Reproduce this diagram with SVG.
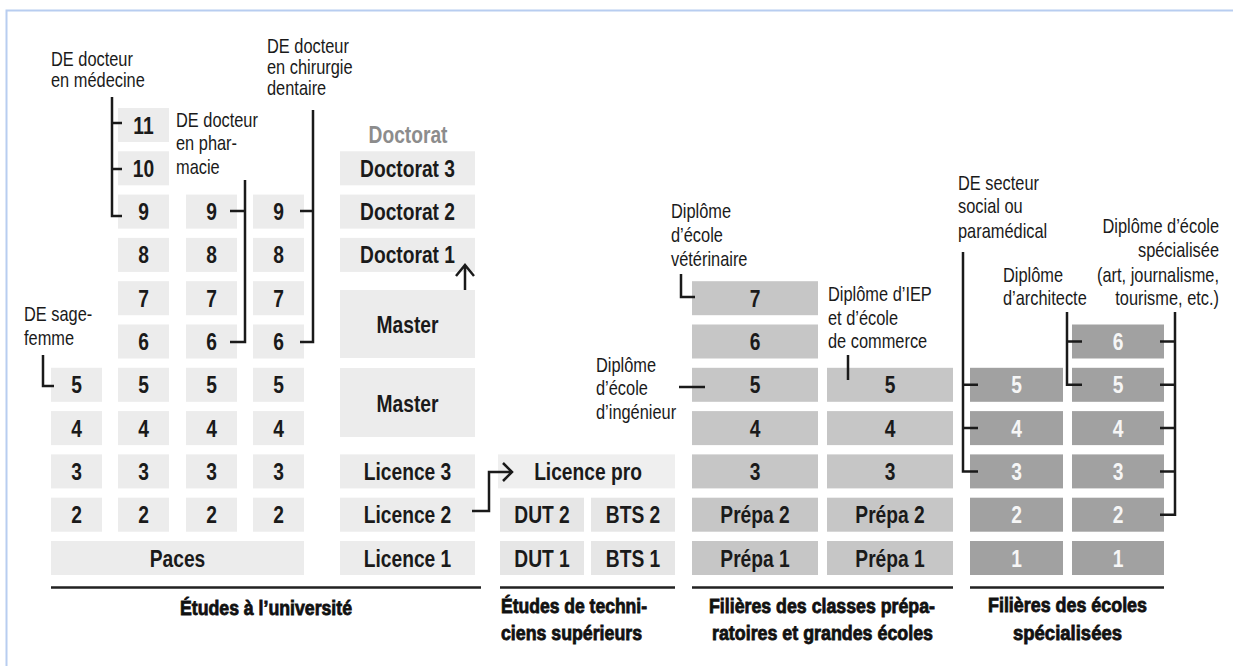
<svg xmlns="http://www.w3.org/2000/svg" width="1233" height="666" viewBox="0 0 1233 666">
<style>
.u{fill:#ececec}.t{fill:#e6e6e6}.lp{fill:#efefef}.p{fill:#c6c6c6}.s{fill:#a1a1a1}
.bt{font-family:"Liberation Sans",Arial,sans-serif;font-weight:bold;font-size:24px;fill:#1a1a1a;text-anchor:middle}
.wt{fill:#f6f6f6}
.lb{font-family:"Liberation Sans",Arial,sans-serif;font-size:20px;fill:#1a1a1a}
.ti{font-family:"Liberation Sans",Arial,sans-serif;font-weight:bold;font-size:20px;fill:#111;stroke:#111;stroke-width:0.8}
.c{fill:none;stroke:#1a1a1a;stroke-width:2.5}
.ul{stroke:#222;stroke-width:2.5}
</style>
<rect width="1233" height="666" fill="#fff"/>
<g id="frame" stroke="#b8cdf0" stroke-width="2" fill="none"><path d="M6.5,666 V10.5 H1233"/></g>

<g id="sage-femme">
<rect class="u" x="51" y="367.8" width="51" height="34"/><text class="bt" transform="translate(76.5,393.3) scale(.8,1)">5</text>
<rect class="u" x="51" y="411.1" width="51" height="34"/><text class="bt" transform="translate(76.5,436.6) scale(.8,1)">4</text>
<rect class="u" x="51" y="454.4" width="51" height="34"/><text class="bt" transform="translate(76.5,479.9) scale(.8,1)">3</text>
<rect class="u" x="51" y="497.7" width="51" height="34"/><text class="bt" transform="translate(76.5,523.2) scale(.8,1)">2</text>
</g>
<g id="medecine">
<rect class="u" x="118" y="108" width="51" height="34"/><text class="bt" transform="translate(143.5,133.5) scale(.8,1)">11</text>
<rect class="u" x="118" y="151.3" width="51" height="34"/><text class="bt" transform="translate(143.5,176.8) scale(.8,1)">10</text>
<rect class="u" x="118" y="194.6" width="51" height="34"/><text class="bt" transform="translate(143.5,220.1) scale(.8,1)">9</text>
<rect class="u" x="118" y="237.9" width="51" height="34"/><text class="bt" transform="translate(143.5,263.4) scale(.8,1)">8</text>
<rect class="u" x="118" y="281.2" width="51" height="34"/><text class="bt" transform="translate(143.5,306.7) scale(.8,1)">7</text>
<rect class="u" x="118" y="324.5" width="51" height="34"/><text class="bt" transform="translate(143.5,350) scale(.8,1)">6</text>
<rect class="u" x="118" y="367.8" width="51" height="34"/><text class="bt" transform="translate(143.5,393.3) scale(.8,1)">5</text>
<rect class="u" x="118" y="411.1" width="51" height="34"/><text class="bt" transform="translate(143.5,436.6) scale(.8,1)">4</text>
<rect class="u" x="118" y="454.4" width="51" height="34"/><text class="bt" transform="translate(143.5,479.9) scale(.8,1)">3</text>
<rect class="u" x="118" y="497.7" width="51" height="34"/><text class="bt" transform="translate(143.5,523.2) scale(.8,1)">2</text>
</g>
<g id="pharmacie">
<rect class="u" x="186" y="194.6" width="51" height="34"/><text class="bt" transform="translate(211.5,220.1) scale(.8,1)">9</text>
<rect class="u" x="186" y="237.9" width="51" height="34"/><text class="bt" transform="translate(211.5,263.4) scale(.8,1)">8</text>
<rect class="u" x="186" y="281.2" width="51" height="34"/><text class="bt" transform="translate(211.5,306.7) scale(.8,1)">7</text>
<rect class="u" x="186" y="324.5" width="51" height="34"/><text class="bt" transform="translate(211.5,350) scale(.8,1)">6</text>
<rect class="u" x="186" y="367.8" width="51" height="34"/><text class="bt" transform="translate(211.5,393.3) scale(.8,1)">5</text>
<rect class="u" x="186" y="411.1" width="51" height="34"/><text class="bt" transform="translate(211.5,436.6) scale(.8,1)">4</text>
<rect class="u" x="186" y="454.4" width="51" height="34"/><text class="bt" transform="translate(211.5,479.9) scale(.8,1)">3</text>
<rect class="u" x="186" y="497.7" width="51" height="34"/><text class="bt" transform="translate(211.5,523.2) scale(.8,1)">2</text>
</g>
<g id="dentaire">
<rect class="u" x="253" y="194.6" width="51" height="34"/><text class="bt" transform="translate(278.5,220.1) scale(.8,1)">9</text>
<rect class="u" x="253" y="237.9" width="51" height="34"/><text class="bt" transform="translate(278.5,263.4) scale(.8,1)">8</text>
<rect class="u" x="253" y="281.2" width="51" height="34"/><text class="bt" transform="translate(278.5,306.7) scale(.8,1)">7</text>
<rect class="u" x="253" y="324.5" width="51" height="34"/><text class="bt" transform="translate(278.5,350) scale(.8,1)">6</text>
<rect class="u" x="253" y="367.8" width="51" height="34"/><text class="bt" transform="translate(278.5,393.3) scale(.8,1)">5</text>
<rect class="u" x="253" y="411.1" width="51" height="34"/><text class="bt" transform="translate(278.5,436.6) scale(.8,1)">4</text>
<rect class="u" x="253" y="454.4" width="51" height="34"/><text class="bt" transform="translate(278.5,479.9) scale(.8,1)">3</text>
<rect class="u" x="253" y="497.7" width="51" height="34"/><text class="bt" transform="translate(278.5,523.2) scale(.8,1)">2</text>
</g>
<g id="paces"><rect class="u" x="51" y="541" width="253" height="34"/><text class="bt" transform="translate(177.5,566.5) scale(.8,1)">Paces</text></g>

<g id="licence-master-doctorat">
<text class="bt" transform="translate(408,143) scale(.8,1)" style="fill:#8c8c8c">Doctorat</text>
<rect class="u" x="340" y="151.3" width="135" height="34"/><text class="bt" transform="translate(407.5,176.8) scale(.8,1)">Doctorat 3</text>
<rect class="u" x="340" y="194.6" width="135" height="34"/><text class="bt" transform="translate(407.5,220.1) scale(.8,1)">Doctorat 2</text>
<rect class="u" x="340" y="237.9" width="135" height="34"/><text class="bt" transform="translate(407.5,263.4) scale(.8,1)">Doctorat 1</text>
<rect class="u" x="340" y="290" width="135" height="68"/><text class="bt" transform="translate(407.5,332.5) scale(.8,1)">Master</text>
<rect class="u" x="340" y="368" width="135" height="69"/><text class="bt" transform="translate(407.5,411.5) scale(.8,1)">Master</text>
<rect class="u" x="340" y="454.4" width="135" height="34"/><text class="bt" transform="translate(407.5,479.9) scale(.8,1)">Licence 3</text>
<rect class="u" x="340" y="497.7" width="135" height="34"/><text class="bt" transform="translate(407.5,523.2) scale(.8,1)">Licence 2</text>
<rect class="u" x="340" y="541" width="135" height="34"/><text class="bt" transform="translate(407.5,566.5) scale(.8,1)">Licence 1</text>
</g>

<g id="techniciens">
<rect class="lp" x="498" y="454.4" width="177" height="34"/><text class="bt" transform="translate(588,479.9) scale(.8,1)">Licence pro</text>
<rect class="t" x="500" y="497.7" width="84" height="34"/><text class="bt" transform="translate(542,523.2) scale(.8,1)">DUT 2</text>
<rect class="t" x="591" y="497.7" width="84" height="34"/><text class="bt" transform="translate(633,523.2) scale(.8,1)">BTS 2</text>
<rect class="t" x="500" y="541" width="84" height="34"/><text class="bt" transform="translate(542,566.5) scale(.8,1)">DUT 1</text>
<rect class="t" x="591" y="541" width="84" height="34"/><text class="bt" transform="translate(633,566.5) scale(.8,1)">BTS 1</text>
</g>

<g id="prepa-ingenieur">
<rect class="p" x="692" y="281.2" width="126" height="34"/><text class="bt" transform="translate(755,306.7) scale(.8,1)">7</text>
<rect class="p" x="692" y="324.5" width="126" height="34"/><text class="bt" transform="translate(755,350) scale(.8,1)">6</text>
<rect class="p" x="692" y="367.8" width="126" height="34"/><text class="bt" transform="translate(755,393.3) scale(.8,1)">5</text>
<rect class="p" x="692" y="411.1" width="126" height="34"/><text class="bt" transform="translate(755,436.6) scale(.8,1)">4</text>
<rect class="p" x="692" y="454.4" width="126" height="34"/><text class="bt" transform="translate(755,479.9) scale(.8,1)">3</text>
<rect class="p" x="692" y="497.7" width="126" height="34"/><text class="bt" transform="translate(755,523.2) scale(.8,1)">Prépa 2</text>
<rect class="p" x="692" y="541" width="126" height="34"/><text class="bt" transform="translate(755,566.5) scale(.8,1)">Prépa 1</text>
</g>
<g id="prepa-commerce">
<rect class="p" x="827" y="367.8" width="126" height="34"/><text class="bt" transform="translate(890,393.3) scale(.8,1)">5</text>
<rect class="p" x="827" y="411.1" width="126" height="34"/><text class="bt" transform="translate(890,436.6) scale(.8,1)">4</text>
<rect class="p" x="827" y="454.4" width="126" height="34"/><text class="bt" transform="translate(890,479.9) scale(.8,1)">3</text>
<rect class="p" x="827" y="497.7" width="126" height="34"/><text class="bt" transform="translate(890,523.2) scale(.8,1)">Prépa 2</text>
<rect class="p" x="827" y="541" width="126" height="34"/><text class="bt" transform="translate(890,566.5) scale(.8,1)">Prépa 1</text>
</g>

<g id="ecoles-social">
<rect class="s" x="970" y="367.8" width="93" height="34"/><text class="bt wt" transform="translate(1016.5,393.3) scale(.8,1)">5</text>
<rect class="s" x="970" y="411.1" width="93" height="34"/><text class="bt wt" transform="translate(1016.5,436.6) scale(.8,1)">4</text>
<rect class="s" x="970" y="454.4" width="93" height="34"/><text class="bt wt" transform="translate(1016.5,479.9) scale(.8,1)">3</text>
<rect class="s" x="970" y="497.7" width="93" height="34"/><text class="bt wt" transform="translate(1016.5,523.2) scale(.8,1)">2</text>
<rect class="s" x="970" y="541" width="93" height="34"/><text class="bt wt" transform="translate(1016.5,566.5) scale(.8,1)">1</text>
</g>
<g id="ecoles-specialisees">
<rect class="s" x="1072" y="324.5" width="92" height="34"/><text class="bt wt" transform="translate(1118,350) scale(.8,1)">6</text>
<rect class="s" x="1072" y="367.8" width="92" height="34"/><text class="bt wt" transform="translate(1118,393.3) scale(.8,1)">5</text>
<rect class="s" x="1072" y="411.1" width="92" height="34"/><text class="bt wt" transform="translate(1118,436.6) scale(.8,1)">4</text>
<rect class="s" x="1072" y="454.4" width="92" height="34"/><text class="bt wt" transform="translate(1118,479.9) scale(.8,1)">3</text>
<rect class="s" x="1072" y="497.7" width="92" height="34"/><text class="bt wt" transform="translate(1118,523.2) scale(.8,1)">2</text>
<rect class="s" x="1072" y="541" width="92" height="34"/><text class="bt wt" transform="translate(1118,566.5) scale(.8,1)">1</text>
</g>

<g id="labels" class="lb">
<text transform="translate(51,66) scale(.82,1)">DE docteur</text><text transform="translate(51,87) scale(.82,1)">en médecine</text>
<text transform="translate(176,127) scale(.82,1)">DE docteur</text><text transform="translate(176,150) scale(.82,1)">en phar-</text><text transform="translate(176,174) scale(.82,1)">macie</text>
<text transform="translate(267,53) scale(.82,1)">DE docteur</text><text transform="translate(267,74) scale(.82,1)">en chirurgie</text><text transform="translate(267,95) scale(.82,1)">dentaire</text>
<text transform="translate(24,321) scale(.82,1)">DE sage-</text><text transform="translate(24,345) scale(.82,1)">femme</text>
<text transform="translate(671,218) scale(.82,1)">Diplôme</text><text transform="translate(671,242) scale(.82,1)">d’école</text><text transform="translate(671,266) scale(.82,1)">vétérinaire</text>
<text transform="translate(828,301) scale(.82,1)">Diplôme d’IEP</text><text transform="translate(828,325) scale(.82,1)">et d’école</text><text transform="translate(828,348) scale(.82,1)">de commerce</text>
<text transform="translate(596,372) scale(.82,1)">Diplôme</text><text transform="translate(596,395) scale(.82,1)">d’école</text><text transform="translate(596,419) scale(.82,1)">d’ingénieur</text>
<text transform="translate(958,190) scale(.82,1)">DE secteur</text><text transform="translate(958,213) scale(.82,1)">social ou</text><text transform="translate(958,238) scale(.82,1)">paramédical</text>
<text transform="translate(1003,282) scale(.82,1)">Diplôme</text><text transform="translate(1003,305) scale(.82,1)">d’architecte</text>
<g text-anchor="end"><text transform="translate(1219,233) scale(.82,1)">Diplôme d’école</text><text transform="translate(1219,257) scale(.82,1)">spécialisée</text><text transform="translate(1219,282) scale(.82,1)">(art, journalisme,</text><text transform="translate(1219,305) scale(.82,1)">tourisme, etc.)</text></g>
</g>

<g id="connectors" class="c">
<path d="M112,97 V216 H122 M112,123 H122 M112,169 H122"/>
<path d="M245,180 V342 H230 M230,211 H245"/>
<path d="M313,110 V342 H300 M300,211 H313"/>
<path d="M43,355 V386 H54"/>
<path d="M465,290 V266 M456,276 L465,265 L474,276"/>
<path d="M472,511 H489 V472 H511 M503,463 L512,472 L503,481"/>
<path d="M681,274 V297 H695"/>
<path d="M679,387 H705"/>
<path d="M848,355 V380"/>
<path d="M963,252 V471.4 H978 M963,384.8 H978 M963,428.1 H978"/>
<path d="M1067,312 V384.8 H1082 M1067,341.5 H1082"/>
<path d="M1175,312 V514.7 H1160 M1160,341.5 H1175 M1160,384.8 H1175 M1160,428.1 H1175 M1160,471.4 H1175"/>
</g>

<g id="sections">
<path class="ul" d="M51,587.5 H481 M500,587.5 H675 M692,587.5 H953 M970,587.5 H1164"/>
<text class="ti" x="180" y="615" textLength="172" lengthAdjust="spacingAndGlyphs">Études à l’université</text>
<text class="ti" x="501" y="613" textLength="146" lengthAdjust="spacingAndGlyphs">Études de techni-</text>
<text class="ti" x="501" y="640" textLength="141" lengthAdjust="spacingAndGlyphs">ciens supérieurs</text>
<text class="ti" x="709" y="613" textLength="226" lengthAdjust="spacingAndGlyphs">Filières des classes prépa-</text>
<text class="ti" x="712" y="640" textLength="221" lengthAdjust="spacingAndGlyphs">ratoires et grandes écoles</text>
<text class="ti" x="988" y="612" textLength="159" lengthAdjust="spacingAndGlyphs">Filières des écoles</text>
<text class="ti" x="1013" y="640" textLength="109" lengthAdjust="spacingAndGlyphs">spécialisées</text>
</g>
</svg>
